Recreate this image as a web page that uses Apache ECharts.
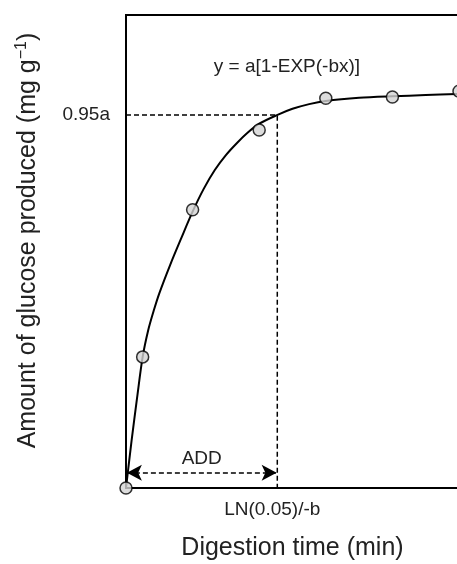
<!DOCTYPE html>
<html>
<head>
<meta charset="utf-8">
<script src="https://cdn.jsdelivr.net/npm/echarts@6/dist/echarts.min.js"></script>
<style>
html, body { margin: 0; padding: 0; background: #fff; }
#chart_container { width: 457px; height: 564px; }
</style>
</head>
<body>
<div id="chart_container"></div>
<script>
"use strict";

// observed points - x in min, y in % of a
const obsX = [0, 15, 60, 120, 180, 240, 300];
const obsY = [0, 33.4, 70.9, 91.2, 99.3, 99.6, 101.1];

// fitted curve
const fitX = [0, 5, 10, 15, 20, 25, 30, 40, 50, 60, 70, 80, 90, 100, 110, 120, 136, 150, 165, 180, 210, 240, 270, 300];
const fitY = [0, 12.0, 23.0, 33.4, 40.2, 45.2, 49.6, 57.0, 63.8, 70.4, 76.2, 81.0, 84.8, 87.9, 90.6, 92.8, 95.0, 96.6, 97.8, 98.6, 99.4, 99.8, 100.1, 100.4];

// guide values
const levelY = 95;        // 0.95a
const addX = 136.3;       // LN(0.05)/-b
const arrowY = 3.9;
const eqPos = [145, 107.2];

const FONT = "Liberation Sans, Arial, sans-serif";

let pageLoaded = () => {
    let chartDom = document.getElementById('chart_container');
    let myChart = echarts.init(chartDom);

    const dash = { color: '#000', width: 1.5, type: [5, 3] };
    const txt = { fontFamily: FONT, fontSize: 19, fill: '#222' };

    let option = {
        animation: false,
        grid: {
            left: 126, right: -2, top: 15, bottom: 76,
            outerBoundsMode: 'none',
            show: true, borderColor: '#000', borderWidth: 2
        },
        xAxis: {
            type: 'value', min: 0, max: 300,
            axisLine: { show: false }, axisTick: { show: false },
            axisLabel: { show: false }, splitLine: { show: false },
            name: 'Digestion time (min)', nameLocation: 'middle', nameGap: 48,
            nameTextStyle: { fontFamily: FONT, fontSize: 25, color: '#222' }
        },
        yAxis: {
            type: 'value', min: 0, max: 120.5, interval: 5,
            axisLine: { show: false }, axisTick: { show: false },
            splitLine: { show: false },
            axisLabel: {
                margin: 16, fontFamily: FONT, fontSize: 19, color: '#222',
                formatter: (v) => (v === levelY ? '0.95a' : '')
            },
            name: 'Amount of glucose produced (mg g{sup|\u22121})',
            nameLocation: 'middle', nameGap: 84,
            nameTextStyle: {
                fontFamily: FONT, fontSize: 25, color: '#222',
                padding: [0, 0, 0, 22],
                rich: { sup: { fontFamily: FONT, fontSize: 16, color: '#222', verticalAlign: 'top', padding: [0, 0, 12, 0] } }
            }
        },
        series: [
            {
                name: 'guide', type: 'line', symbol: 'none', z: 1,
                data: [[0, levelY], [addX, levelY], [addX, 0]],
                lineStyle: dash,
                markLine: {
                    silent: true, symbol: ['arrow', 'arrow'], symbolSize: [12, 15],
                    lineStyle: dash,
                    label: { show: true, position: 'middle', formatter: 'ADD', distance: 4,
                        fontFamily: FONT, fontSize: 19, color: '#222' },
                    data: [[{ coord: [0.8, arrowY] }, { coord: [addX - 0.6, arrowY] }]]
                }
            },
            {
                name: 'fit', type: 'line', symbol: 'none', smooth: 0.3, z: 2,
                data: fitX.map((x, i) => [x, fitY[i]]),
                lineStyle: { color: '#000', width: 2 }
            },
            {
                name: 'obs', type: 'scatter', symbolSize: 12, z: 3, clip: false,
                data: obsX.map((x, i) => [x, obsY[i]]),
                itemStyle: { color: '#d3d3d3', borderColor: '#000', borderWidth: 1.5 }
            }
        ]
    };

    myChart.setOption(option);

    // annotations placed through the grid's own scale
    const lnPt = myChart.convertToPixel({ gridIndex: 0 }, [addX, 0]);
    const eqPt = myChart.convertToPixel({ gridIndex: 0 }, eqPos);
    myChart.setOption({
        graphic: [
            { type: 'text', x: lnPt[0] - 5, y: lnPt[1] + 22, z: 10,
              style: Object.assign({ text: 'LN(0.05)/-b', align: 'center', verticalAlign: 'middle' }, txt) },
            { type: 'text', x: eqPt[0], y: eqPt[1], z: 10,
              style: Object.assign({ text: 'y = a[1-EXP(-bx)]', align: 'center', verticalAlign: 'middle' }, txt) }
        ]
    });
};

window.addEventListener('load', pageLoaded, false);
</script>
</body>
</html>
